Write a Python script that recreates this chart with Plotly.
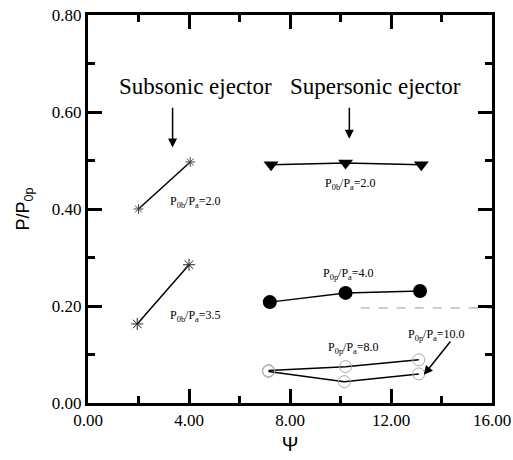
import plotly.graph_objects as go

# Data
sub20_x = [2.0, 4.05]
sub20_y = [0.40, 0.497]
sub35_x = [1.95, 4.0]
sub35_y = [0.163, 0.285]
sup20_x = [7.25, 10.2, 13.2]
sup20_y = [0.491, 0.495, 0.491]
sup40_x = [7.2, 10.2, 13.15]
sup40_y = [0.208, 0.227, 0.231]
sup80_x = [7.15, 10.2, 13.1]
sup80_y = [0.067, 0.075, 0.089]
sup100_x = [7.15, 10.15, 13.1]
sup100_y = [0.065, 0.044, 0.060]
ref_x = [10.8, 16.0]
ref_y = [0.196, 0.196]

x_ticks = [0, 4, 8, 12, 16]
x_labels = ["0.00", "4.00", "8.00", "12.00", "16.00"]
y_ticks = [0.0, 0.2, 0.4, 0.6, 0.8]
y_labels = ["0.00", "0.20", "0.40", "0.60", "0.80"]

FONT = "Liberation Serif, Times New Roman, serif"
SANS = "Liberation Sans, Arial, sans-serif"
fig = go.Figure()

fig.add_trace(go.Scatter(x=ref_x, y=ref_y, mode="lines",
                         line=dict(color="#999", width=1, dash="dash"), showlegend=False))
fig.add_trace(go.Scatter(x=sub20_x, y=sub20_y, mode="lines+markers",
                         line=dict(color="black", width=1.5),
                         marker=dict(symbol="asterisk-open", size=8, color="#444", line=dict(width=1, color="#444")),
                         showlegend=False))
fig.add_trace(go.Scatter(x=sub35_x, y=sub35_y, mode="lines+markers",
                         line=dict(color="black", width=1.5),
                         marker=dict(symbol="asterisk-open", size=10, color="#222", line=dict(width=1, color="#222")),
                         showlegend=False))
fig.add_trace(go.Scatter(x=sup20_x, y=sup20_y, mode="lines+markers",
                         line=dict(color="black", width=1.5),
                         marker=dict(symbol="triangle-down", size=13, color="black"),
                         showlegend=False))
fig.add_trace(go.Scatter(x=sup40_x, y=sup40_y, mode="lines+markers",
                         line=dict(color="black", width=1.5),
                         marker=dict(symbol="circle", size=14, color="black"),
                         showlegend=False))
fig.add_trace(go.Scatter(x=sup80_x, y=sup80_y, mode="lines+markers",
                         line=dict(color="black", width=1.5),
                         marker=dict(symbol="circle-open", size=12, color="#aaa", line=dict(width=1, color="#aaa")),
                         showlegend=False))
fig.add_trace(go.Scatter(x=sup100_x, y=sup100_y, mode="lines+markers",
                         line=dict(color="black", width=1.5),
                         marker=dict(symbol="circle-open", size=12, color="#aaa", line=dict(width=1, color="#aaa")),
                         showlegend=False))

ann = []
def txt(x, y, t, size=12):
    ann.append(dict(x=x, y=y, xref="x", yref="y", text=t, showarrow=False,
                    font=dict(family=FONT, size=size, color="black")))

txt(4.24, 0.652, "Subsonic ejector", 23)
txt(11.4, 0.652, "Supersonic ejector", 23)
txt(4.27, 0.415, "P<sub>0b</sub>/P<sub>a</sub>=2.0")
txt(4.27, 0.180, "P<sub>0b</sub>/P<sub>a</sub>=3.5")
txt(10.4, 0.452, "P<sub>0b</sub>/P<sub>a</sub>=2.0")
txt(10.3, 0.265, "P<sub>0p</sub>/P<sub>a</sub>=4.0")
txt(10.5, 0.113, "P<sub>0p</sub>/P<sub>a</sub>=8.0")
txt(13.8, 0.140, "P<sub>0p</sub>/P<sub>a</sub>=10.0")

# arrows
for (ax, ay, x, y) in [(3.35, 0.612, 3.35, 0.527), (10.35, 0.612, 10.35, 0.545), (14.4, 0.13, 13.3, 0.058)]:
    ann.append(dict(x=x, y=y, ax=ax, ay=ay, xref="x", yref="y", axref="x", ayref="y",
                    text="", showarrow=True, arrowhead=2, arrowsize=1.2, arrowwidth=1.5,
                    arrowcolor="black"))

fig.update_layout(
    template="none",
    width=513, height=460,
    margin=dict(l=88, r=21, t=15, b=57),
    paper_bgcolor="white", plot_bgcolor="white",
    font=dict(family=FONT, size=17, color="black"),
    annotations=ann,
    xaxis=dict(range=[0, 16], tickvals=x_ticks, ticktext=x_labels, automargin=False,
               ticks="inside", ticklen=14, tickwidth=3, tickcolor="black",
               minor=dict(tickvals=[2, 6, 10, 14], ticks="inside", ticklen=7, tickwidth=3, tickcolor="black"),
               showline=True, linewidth=3, linecolor="black", mirror="allticks",
               showgrid=False, zeroline=False,
               title=dict(text="Ψ", font=dict(size=20, family=SANS), standoff=8),
               tickfont=dict(size=17, family=FONT)),
    yaxis=dict(range=[0, 0.8], tickvals=y_ticks, ticktext=y_labels, automargin=False,
               ticks="inside", ticklen=14, tickwidth=3, tickcolor="black",
               minor=dict(tickvals=[0.1, 0.3, 0.5, 0.7], ticks="inside", ticklen=7, tickwidth=3, tickcolor="black"),
               showline=True, linewidth=3, linecolor="black", mirror="allticks",
               showgrid=False, zeroline=False,
               title=dict(text="P/P<sub>0p</sub>", font=dict(size=18, family=SANS), standoff=18),
               tickfont=dict(size=17, family=FONT)),
)

fig.write_html("out.html", config={"displayModeBar": False},
               post_script="document.body.style.margin='0';")
